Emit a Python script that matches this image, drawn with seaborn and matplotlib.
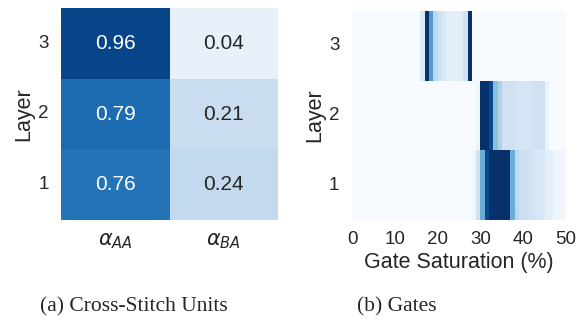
import matplotlib
matplotlib.use("Agg")
import matplotlib.pyplot as plt
import numpy as np
import pandas as pd
import seaborn as sns

# Cross-stitch weights per layer (top row = layer 3)
layers = ["3", "2", "1"]
weight_labels = [r"$\alpha_{AA}$", r"$\alpha_{BA}$"]
alpha_aa = [0.96, 0.79, 0.76]
alpha_ba = [0.04, 0.21, 0.24]

# Gate saturation histograms, one value per 1 % bin (0..49)
saturation_ticks = [0, 10, 20, 30, 40, 50]
gates_layer3 = ([0.0] * 16
                + [0.14, 1.0, 0.58, 0.28, 0.2, 0.16, 0.11, 0.11, 0.11, 0.11, 0.2, 1.0]
                + [0.0] * 22)
gates_layer2 = ([0.0] * 29
                + [0.04, 1.0, 1.0, 0.9, 0.42, 0.32, 0.2, 0.2, 0.2, 0.17, 0.17,
                   0.17, 0.17, 0.2, 0.2, 0.21, 0.06]
                + [0.0] * 4)
gates_layer1 = ([0.0] * 28
                + [0.05, 0.2, 0.5, 0.9, 1.0, 1.0, 1.0, 1.0, 1.0, 0.5, 0.27,
                   0.22, 0.22, 0.2, 0.17, 0.16, 0.15, 0.1, 0.09, 0.05, 0.04, 0.03])

sns.set_theme(style="white")
plt.rcParams["font.family"] = ["Liberation Sans", "DejaVu Sans"]
plt.rcParams["mathtext.fontset"] = "dejavusans"

W, H = 579, 323
fig = plt.figure(figsize=(W / 100, H / 100), dpi=100)

def frac(x0, y0, x1, y1):
    return [x0 / W, 1 - y1 / H, (x1 - x0) / W, (y1 - y0) / H]

ax1 = fig.add_axes(frac(61, 8, 278, 220))
ax2 = fig.add_axes(frac(352, 11, 566, 220))

# (a) cross-stitch units
stitch = pd.DataFrame({weight_labels[0]: alpha_aa, weight_labels[1]: alpha_ba},
                      index=layers)
sns.heatmap(stitch, ax=ax1, cmap="Blues", vmin=-0.045, vmax=1.045, cbar=False,
            annot=True, fmt=".2f", annot_kws={"size": 15})
ax1.set_ylabel("Layer", fontsize=15.5, labelpad=3)
ax1.set_xlabel("")
ax1.tick_params(axis="both", length=0, labelsize=13.5)
ax1.tick_params(axis="y", pad=9)
ax1.tick_params(axis="x", pad=8)
ax1.set_yticklabels(layers, rotation=0)
ax1.set_xticklabels(weight_labels, rotation=0, fontsize=15)

# (b) gate saturation
gates = pd.DataFrame([gates_layer3, gates_layer2, gates_layer1], index=layers,
                     columns=np.arange(len(gates_layer1)))
sns.heatmap(gates, ax=ax2, cmap="Blues", vmin=0, vmax=1, cbar=False,
            xticklabels=False)
ax2.set_xticks(saturation_ticks)
ax2.set_xticklabels([str(t) for t in saturation_ticks], rotation=0)
ax2.set_yticklabels(layers, rotation=0)
ax2.set_ylabel("Layer", fontsize=15.5, labelpad=3)
ax2.set_xlabel("Gate Saturation (%)", fontsize=15.5, labelpad=3)
ax2.tick_params(axis="both", length=0, labelsize=13.5)
ax2.tick_params(axis="y", pad=9)
ax2.tick_params(axis="x", pad=8)

cap = dict(fontsize=15.5, family=["Liberation Serif", "DejaVu Serif"],
           ha="center", va="center")
fig.text(134 / W, 1 - 307 / H, "(a) Cross-Stitch Units", **cap)
fig.text(397 / W, 1 - 307 / H, "(b) Gates", **cap)

fig.savefig("out.png", dpi=100)
